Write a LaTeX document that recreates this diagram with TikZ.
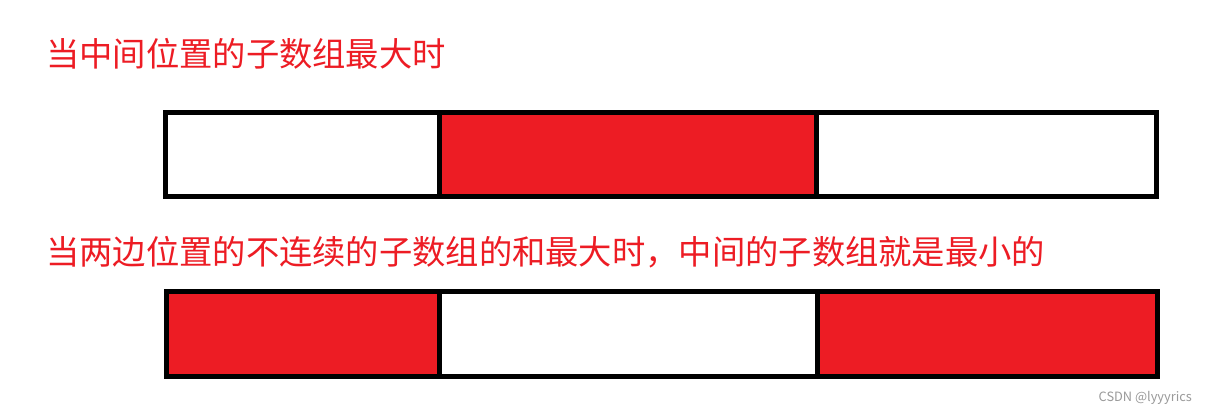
\documentclass[tikz,border=0pt]{standalone}
\usepackage{fontspec}
\newfontfamily\cjk{Noto Sans CJK SC}
\definecolor{paintred}{HTML}{ED1C24}
\definecolor{titlered}{HTML}{ED1C24}
\definecolor{wmgray}{HTML}{9A9A9A}
\begin{document}
\begin{tikzpicture}[x=1pt,y=-1pt,
  cell/.style={draw=black,line width=5pt,rectangle,inner sep=0pt,outer sep=0pt,anchor=north west},
  title/.style={font=\cjk\fontsize{33.3}{33.3}\selectfont,text=titlered,inner sep=0pt,anchor=base west},
  wm/.style={font=\cjk\fontsize{12.8}{12.8}\selectfont,text=wmgray,inner sep=0pt,anchor=east}]
\useasboundingbox[fill=white] (0,0) rectangle (1208,416);
% titles
\node[title] (t1) at (46,66) {当中间位置的子数组最大时};
\node[title] (t2) at (46,264) {当两边位置的不连续的子数组的和最大时，中间的子数组就是最小的};
% top bar
\node[cell,fill=white,minimum width=273.5pt,minimum height=84pt] (a1) at (165.5,112.5) {};
\node[cell,fill=paintred,minimum width=377pt,minimum height=84pt] (a2) at (439,112.5) {};
\node[cell,fill=white,minimum width=340.5pt,minimum height=84pt] (a3) at (816,112.5) {};
% bottom bar
\node[cell,fill=paintred,minimum width=273pt,minimum height=85pt] (b1) at (166.5,291.5) {};
\node[cell,fill=white,minimum width=378pt,minimum height=85pt] (b2) at (439.5,291.5) {};
\node[cell,fill=paintred,minimum width=340pt,minimum height=85pt] (b3) at (817.5,291.5) {};
% watermark
\node[wm] (w) at (1192,398) {CSDN @lyyyrics};
\end{tikzpicture}
\end{document}
